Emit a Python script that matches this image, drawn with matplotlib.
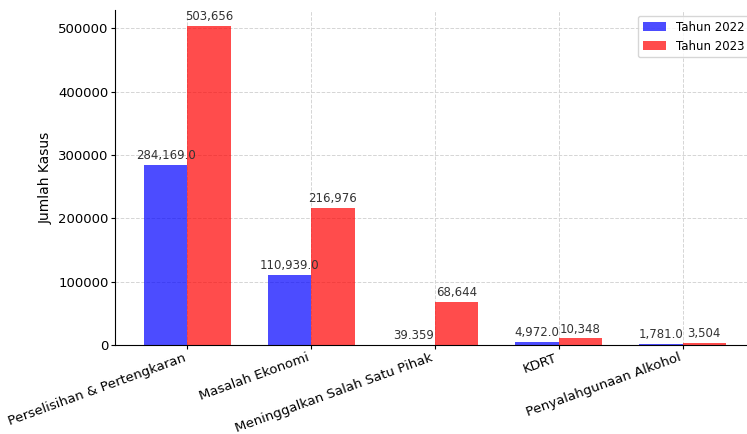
import numpy as np
import matplotlib.pyplot as plt

categories = ["Perselisihan & Pertengkaran", "Masalah Ekonomi",
              "Meninggalkan Salah Satu Pihak", "KDRT", "Penyalahgunaan Alkohol"]
tahun_2022 = [284169.0, 110939.0, 39.359, 4972.0, 1781.0]
tahun_2023 = [503656, 216976, 68644, 10348, 3504]

x = np.arange(len(categories))
width = 0.35

fig = plt.figure(figsize=(7.47, 4.34), dpi=100)
# the reference is a crop, so the axes run a little past the right edge
ax = fig.add_axes([115 / 747, 89 / 434, 640 / 747, 335 / 434])

bars1 = ax.bar(x - width / 2, tahun_2022, width, label="Tahun 2022", color="blue", alpha=0.7)
bars2 = ax.bar(x + width / 2, tahun_2023, width, label="Tahun 2023", color="red", alpha=0.7)

ax.bar_label(bars1, labels=[f"{v:,}" for v in tahun_2022], padding=2, fontsize=8.5, color="#333333")
ax.bar_label(bars2, labels=[f"{v:,}" for v in tahun_2023], padding=2, fontsize=8.5, color="#333333")

ax.set_ylabel("Jumlah Kasus", fontsize=10, labelpad=4)
ax.set_xticks(x)
ax.set_xticklabels(categories, rotation=20, ha="right", fontsize=9.5)
ax.tick_params(axis="y", labelsize=9.5, length=3, pad=1.5)
ax.tick_params(axis="x", length=3, pad=1.5)
ax.grid(True, linestyle="--", color="#d5d5d5", linewidth=0.7)
ax.set_axisbelow(True)
ax.spines["top"].set_visible(False)
ax.spines["right"].set_visible(False)
ax.legend(loc="upper right", fontsize=8.5)

fig.savefig("out.png", dpi=100)
